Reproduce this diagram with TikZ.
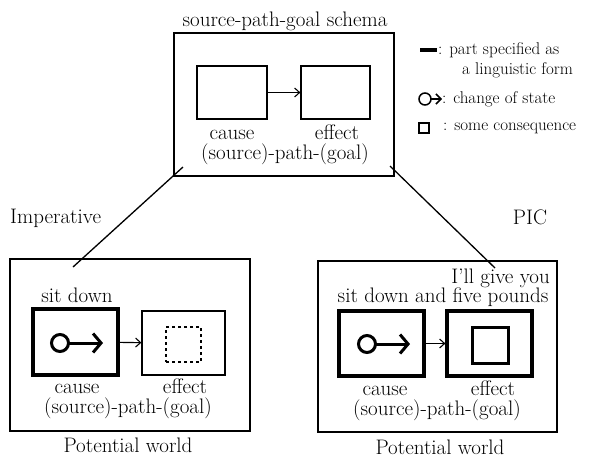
\documentclass[tikz,border=0pt]{standalone}
\usetikzlibrary{arrows.meta}

\tikzset{
  state/.pic={
    \draw[line width=3pt] (0,0) circle (8.5);
    \draw[line width=3pt,-{Straight Barb[length=8pt,width=19pt]}] (8.5,0) -- (43,0);
  }
}

\begin{document}
\begin{tikzpicture}[x=1pt,y=-1pt,font=\fontsize{21}{24}\selectfont,
  frame/.style={draw,line width=1.4pt,inner sep=0pt},
  thinbox/.style={draw,line width=1.2pt,inner sep=0pt},
  thickbox/.style={draw,line width=3.2pt,inner sep=0pt},
  txt/.style={anchor=base,inner sep=0pt},
  link/.style={line width=1.1pt,-{Straight Barb[length=5pt,width=9pt]}},
  legend/.style={anchor=west,inner sep=0pt,font=\fontsize{17}{20}\selectfont}]

\useasboundingbox (0,0) rectangle (596,459);

% Schema
\node[txt] (title) at (285,26) {source-path-goal schema};
\node[frame,minimum width=220pt,minimum height=143pt] (schema) at (284,104.5) {};
\node[thinbox,minimum width=70pt,minimum height=53pt] (scause) at (232,92.5) {};
\node[thinbox,minimum width=69pt,minimum height=53pt] (seffect) at (335.5,92.5) {};
\draw[link] (scause) -- (seffect);
\node[txt] (scausel) at (232,139) {cause};
\node[txt] (seffectl) at (337,139) {effect};
\node[txt] (spath) at (285,159) {(source)-path-(goal)};

% Legend
\coordinate (lega) at (420,50);
\coordinate (legb) at (437,50);
\draw[line width=4pt] (lega) -- (legb);
\node[legend] (form) at (438,50) {: part specified as};
\node[legend] (form2) at (462,70) {a linguistic form};
\draw[line width=1.5pt] (425,99) circle (6);
\draw[line width=1.5pt,-{Straight Barb[length=5pt,width=10pt]}] (431,99) -- (442,99);
\node[legend] (change) at (442,99) {: change of state};
\node[draw,line width=1.3pt,minimum size=10pt,inner sep=0pt] (sq) at (424,128) {};
\node[legend] (conseq) at (443,128) {: some consequence};

% Branches
\coordinate (ltop) at (183,167);
\coordinate (lbot) at (73,267);
\coordinate (rtop) at (390,166);
\coordinate (rbot) at (495,268);
\draw[line width=1.3pt] (ltop) -- (lbot);
\draw[line width=1.3pt] (rtop) -- (rbot);
\node[txt,anchor=base west] (imp) at (10,223) {Imperative};
\node[txt] (pic) at (530,224) {PIC};


% Imperative world
\node[frame,minimum width=240pt,minimum height=172pt] (lworld) at (130,345) {};
\node[txt] (lsit) at (77,302) {sit down};
\node[thickbox,minimum width=85pt,minimum height=66pt] (lcause) at (75.5,342) {};
\pic at (60,343) {state};
\node[thinbox,minimum width=83pt,minimum height=64pt] (leffect) at (183.5,343) {};
\node[draw,dashed,line width=1.2pt,minimum size=35pt,inner sep=0pt] (lcons) at (183.5,344.5) {};
\draw[link] (lcause) -- (leffect);
\node[txt] (lcausel) at (77,393) {cause};
\node[txt] (leffectl) at (185,393) {effect};
\node[txt] (lpath) at (128,413) {(source)-path-(goal)};
\node[txt] (lpot) at (128,452) {Potential world};

% PIC world
\node[frame,minimum width=239pt,minimum height=171pt] (rworld) at (437.5,346.5) {};
\node[txt,anchor=base east] (rgive) at (550,283) {I'll give you};
\node[txt] (rsit) at (443,302) {sit down and five pounds};
\node[thickbox,minimum width=85pt,minimum height=65pt] (rcause) at (381.5,343.5) {};
\pic at (367,344) {state};
\node[thickbox,minimum width=85pt,minimum height=65pt] (reffect) at (489.5,343.5) {};
\node[draw,line width=3pt,minimum size=36pt,inner sep=0pt] (rcons) at (490,345) {};
\draw[link] (rcause) -- (reffect);
\node[txt] (rcausel) at (385,395) {cause};
\node[txt] (reffectl) at (493,395) {effect};
\node[txt] (rpath) at (437,415) {(source)-path-(goal)};
\node[txt] (rpot) at (440,454) {Potential world};

\end{tikzpicture}
\end{document}
